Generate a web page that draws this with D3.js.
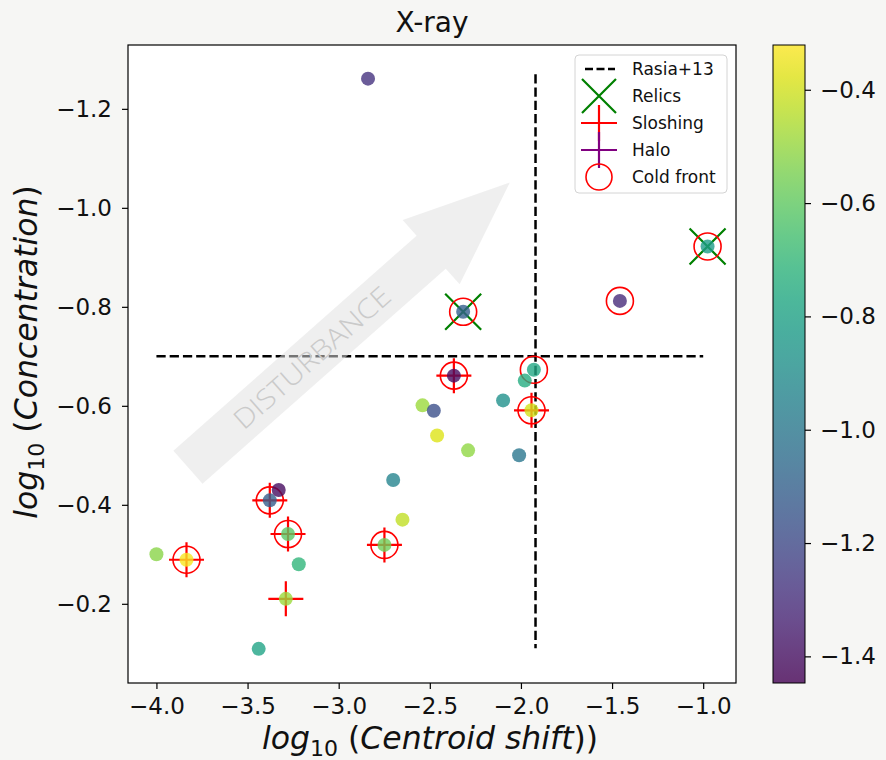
<!DOCTYPE html>
<html>
<head>
<meta charset="utf-8">
<script src="https://cdn.jsdelivr.net/npm/d3@7"></script>
<style>
  body { margin: 0; background: #f6f6f4; }
  svg { display: block; font-family: "DejaVu Sans", sans-serif; }
</style>
</head>
<body>
<div id="chart"></div>
<script>
// values
const shift = [-2.839, -0.976, -1.457, -2.317, -2.368, -1.929, -1.979, -1.942, -2.098, -2.540,
               -2.478, -2.460, -2.290, -2.010, -2.701, -2.650, -2.749, -3.378, -3.329, -3.278,
               -3.219, -3.290, -3.439, -4.000, -3.835];
const conc  = [-1.261, -0.922, -0.812, -0.790, -0.661, -0.673, -0.651, -0.591, -0.611, -0.601,
               -0.590, -0.540, -0.510, -0.500, -0.450, -0.370, -0.319, -0.409, -0.430, -0.341,
               -0.280, -0.210, -0.109, -0.300, -0.289];
const colorVal = [-1.28, -0.83, -1.31, -1.11, -1.41, -0.77, -0.75, -0.40, -0.88, -0.49,
                  -1.17, -0.38, -0.51, -1.00, -0.94, -0.43, -0.57, -1.11, -1.41, -0.61,
                  -0.71, -0.49, -0.79, -0.52, -0.33];

// which clusters carry which feature (indices into the arrays above)
const relics    = [1, 3];
const sloshing  = [4, 7, 16, 17, 19, 21, 24];
const halo      = [];
const coldFront = [1, 2, 3, 4, 5, 7, 16, 17, 19, 24];

// Rasia+13 thresholds
const rasiaShiftCut = -1.92, rasiaConcCut = -0.70;
const rasiaShiftSpan = [-4.0, -1.0], rasiaConcSpan = [-1.27, -0.11];

// disturbance arrow (data coords)
const arrowTail = [-3.827, -0.476], arrowTip = [-2.061, -1.051];

const xTicks = [-4.0, -3.5, -3.0, -2.5, -2.0, -1.5, -1.0];
const yTicks = [-1.2, -1.0, -0.8, -0.6, -0.4, -0.2];
const cTicks = [-1.4, -1.2, -1.0, -0.8, -0.6, -0.4];
const legendLabels = ["Rasia+13", "Relics", "Sloshing", "Halo", "Cold front"];

// set the dimensions and margins of the graph
var margin = {top: 45, right: 150, bottom: 77, left: 128},
    width = 886 - margin.left - margin.right,
    height = 760 - margin.top - margin.bottom;

const svg = d3.select('#chart')
    .append("svg")
    .attr("width", 886)
    .attr("height", 760);

svg.append("rect").attr("width", 886).attr("height", 760).attr("fill", "#f6f6f4");

const mysvg = svg.append("g")
    .attr("transform", `translate(${margin.left}, ${margin.top})`);

mysvg.append("rect").attr("width", width).attr("height", height).attr("fill", "#fff");

var x = d3.scaleLinear().domain([-4.156, -0.820]).range([0, width]);
var y = d3.scaleLinear().domain([-0.040, -1.329]).range([height, 0]);
const color = d3.scaleSequential(d3.interpolateViridis).domain([-1.447, -0.321]);

mysvg.append("clipPath").attr("id", "clip")
    .append("rect").attr("width", width).attr("height", height);
const plot = mysvg.append("g").attr("clip-path", "url(#clip)");

// Rasia+13 dashed lines
plot.append("line")
    .attr("x1", x(rasiaShiftSpan[0])).attr("x2", x(rasiaShiftSpan[1]))
    .attr("y1", y(rasiaConcCut)).attr("y2", y(rasiaConcCut))
    .attr("stroke", "#000").attr("stroke-width", 2.5).attr("stroke-dasharray", "9.25,4");
plot.append("line")
    .attr("x1", x(rasiaShiftCut)).attr("x2", x(rasiaShiftCut))
    .attr("y1", y(rasiaConcSpan[0])).attr("y2", y(rasiaConcSpan[1]))
    .attr("stroke", "#000").attr("stroke-width", 2.5).attr("stroke-dasharray", "9.25,4");

// big translucent arrow
const P0 = [x(arrowTail[0]), y(arrowTail[1])], P1 = [x(arrowTip[0]), y(arrowTip[1])];
const len = Math.hypot(P1[0] - P0[0], P1[1] - P0[1]);
const u = [(P1[0] - P0[0]) / len, (P1[1] - P0[1]) / len];
const n = [-u[1], u[0]];
const shaftW = 22, headW = 43, headL = 105;
const H = [P1[0] - u[0] * headL, P1[1] - u[1] * headL];
const pt = (p, k) => [p[0] + n[0] * k, p[1] + n[1] * k];
const arrowPts = [pt(P0, shaftW), pt(H, shaftW), pt(H, headW), P1, pt(H, -headW), pt(H, -shaftW), pt(P0, -shaftW)];
plot.append("polygon")
    .attr("points", arrowPts.map(p => p.join(",")).join(" "))
    .attr("fill", "#e0e0e0").attr("fill-opacity", 0.52);

const angle = Math.atan2(u[1], u[0]) * 180 / Math.PI;
const tc = [P0[0] + u[0] * len * 0.385, P0[1] + u[1] * len * 0.385];
plot.append("text")
    .attr("transform", `translate(${tc[0]},${tc[1]}) rotate(${angle})`)
    .attr("text-anchor", "middle").attr("dy", "0.36em")
    .attr("font-family", "'Open Sans', Lato, sans-serif").attr("font-weight", 300)
    .attr("font-size", 27).attr("textLength", 199).attr("lengthAdjust", "spacingAndGlyphs")
    .attr("fill", "#cacaca")
    .text("DISTURBANCE");

// feature markers
const xPath = s => `M${-s},${-s}L${s},${s}M${-s},${s}L${s},${-s}`;
const plusPath = s => `M${-s},0L${s},0M0,${-s}L0,${s}`;

plot.append("g").selectAll("path").data(relics).join("path")
    .attr("transform", i => `translate(${x(shift[i])},${y(conc[i])})`)
    .attr("d", xPath(18)).attr("stroke", "#008000").attr("stroke-width", 2.2).attr("fill", "none");
plot.append("g").selectAll("path").data(sloshing).join("path")
    .attr("transform", i => `translate(${x(shift[i])},${y(conc[i])})`)
    .attr("d", plusPath(17.5)).attr("stroke", "#ff0000").attr("stroke-width", 2.2).attr("fill", "none");
plot.append("g").selectAll("path").data(halo).join("path")
    .attr("transform", i => `translate(${x(shift[i])},${y(conc[i])})`)
    .attr("d", plusPath(17.5)).attr("stroke", "#800080").attr("stroke-width", 2.2).attr("fill", "none");
plot.append("g").selectAll("circle").data(coldFront).join("circle")
    .attr("cx", i => x(shift[i])).attr("cy", i => y(conc[i])).attr("r", 13.5)
    .attr("stroke", "#ff0000").attr("stroke-width", 1.6).attr("fill", "none");

// Add dots
plot.append("g").selectAll("circle").data(shift).join("circle")
    .attr("cx", d => x(d))
    .attr("cy", (d, i) => y(conc[i]))
    .attr("r", 7)
    .attr("fill", (d, i) => color(colorVal[i]))
    .attr("fill-opacity", 0.8);

// axes
const fmt = d3.format(".1f");
const xAxis = mysvg.append("g")
    .attr("transform", `translate(0, ${height})`)
    .call(d3.axisBottom(x).tickValues(xTicks).tickFormat(fmt).tickSize(6).tickPadding(9).tickSizeOuter(0));
const yAxis = mysvg.append("g")
    .call(d3.axisLeft(y).tickValues(yTicks).tickFormat(fmt).tickSize(6).tickPadding(10).tickSizeOuter(0));
[xAxis, yAxis].forEach(a => {
  a.select(".domain").remove();
  a.selectAll("line").attr("stroke", "#000").attr("stroke-width", 1.2);
  a.selectAll("text").attr("font-size", 23).attr("fill", "#111").attr("font-family", "DejaVu Sans");
});

mysvg.append("rect").attr("width", width).attr("height", height)
    .attr("fill", "none").attr("stroke", "#000").attr("stroke-width", 1.2);

// title and axis labels
svg.append("text").attr("x", margin.left + width / 2).attr("y", 32)
    .attr("text-anchor", "middle").attr("font-size", 28).attr("fill", "#111").text("X-ray");

function mathLabel(t, word) {
  t.append("tspan").attr("font-style", "italic").text("log");
  t.append("tspan").attr("font-size", "70%").attr("dy", 7).text("10");
  t.append("tspan").attr("dy", -7).text(" (");
  t.append("tspan").attr("font-style", "italic").text(word);
  t.append("tspan").text(word === "Concentration" ? ")" : "))");
}

const xl = svg.append("text").attr("x", margin.left + width / 2 - 2).attr("y", 749)
    .attr("text-anchor", "middle").attr("font-size", 31.5).attr("fill", "#111");
mathLabel(xl, "Centroid shift");

const yl = svg.append("text").attr("transform", `translate(37, ${margin.top + height / 2 - 12}) rotate(-90)`)
    .attr("text-anchor", "middle").attr("font-size", 31.5).attr("fill", "#111");
mathLabel(yl, "Concentration");

// colour bar
const cb = svg.append("g").attr("transform", "translate(773, 45)");
const cbW = 32, cbH = 638;
const cy = d3.scaleLinear().domain(color.domain()).range([cbH, 0]);
const grad = svg.append("defs").append("linearGradient").attr("id", "vir")
    .attr("x1", 0).attr("y1", 1).attr("x2", 0).attr("y2", 0);
d3.range(0, 1.0001, 0.05).forEach(t => {
  grad.append("stop").attr("offset", t).attr("stop-color", d3.interpolateViridis(t)).attr("stop-opacity", 0.8);
});
cb.append("rect").attr("width", cbW).attr("height", cbH).attr("fill", "url(#vir)")
    .attr("stroke", "#000").attr("stroke-width", 1);
const cAxis = cb.append("g").attr("transform", `translate(${cbW}, 0)`)
    .call(d3.axisRight(cy).tickValues(cTicks).tickFormat(fmt).tickSize(6).tickPadding(9).tickSizeOuter(0));
cAxis.select(".domain").remove();
cAxis.selectAll("line").attr("stroke", "#000").attr("stroke-width", 1.2);
cAxis.selectAll("text").attr("font-size", 23).attr("fill", "#111").attr("font-family", "DejaVu Sans");

// legend
const lg = svg.append("g").attr("transform", "translate(575, 55)");
lg.append("rect").attr("width", 152).attr("height", 138).attr("rx", 4)
    .attr("fill", "#fff").attr("fill-opacity", 0.8).attr("stroke", "#d4d4d4");
const rowY = i => 14 + i * 27;
const mx = 24;
lg.append("line").attr("x1", mx - 14).attr("x2", mx + 16).attr("y1", rowY(0)).attr("y2", rowY(0))
    .attr("stroke", "#000").attr("stroke-width", 2.5).attr("stroke-dasharray", "8,3.5");
lg.append("path").attr("transform", `translate(${mx},${rowY(1)})`).attr("d", xPath(17))
    .attr("stroke", "#008000").attr("stroke-width", 2.2);
lg.append("path").attr("transform", `translate(${mx},${rowY(2)})`).attr("d", plusPath(18))
    .attr("stroke", "#ff0000").attr("stroke-width", 2.2);
lg.append("path").attr("transform", `translate(${mx},${rowY(3)})`).attr("d", plusPath(18))
    .attr("stroke", "#800080").attr("stroke-width", 2.2);
lg.append("circle").attr("cx", mx).attr("cy", rowY(4)).attr("r", 13)
    .attr("stroke", "#ff0000").attr("stroke-width", 1.6).attr("fill", "none");
lg.selectAll("text.lab").data(legendLabels).join("text").attr("class", "lab")
    .attr("x", 57).attr("y", (d, i) => rowY(i)).attr("dy", "0.36em")
    .attr("font-size", 17).attr("fill", "#111").text(d => d);
</script>
</body>
</html>
